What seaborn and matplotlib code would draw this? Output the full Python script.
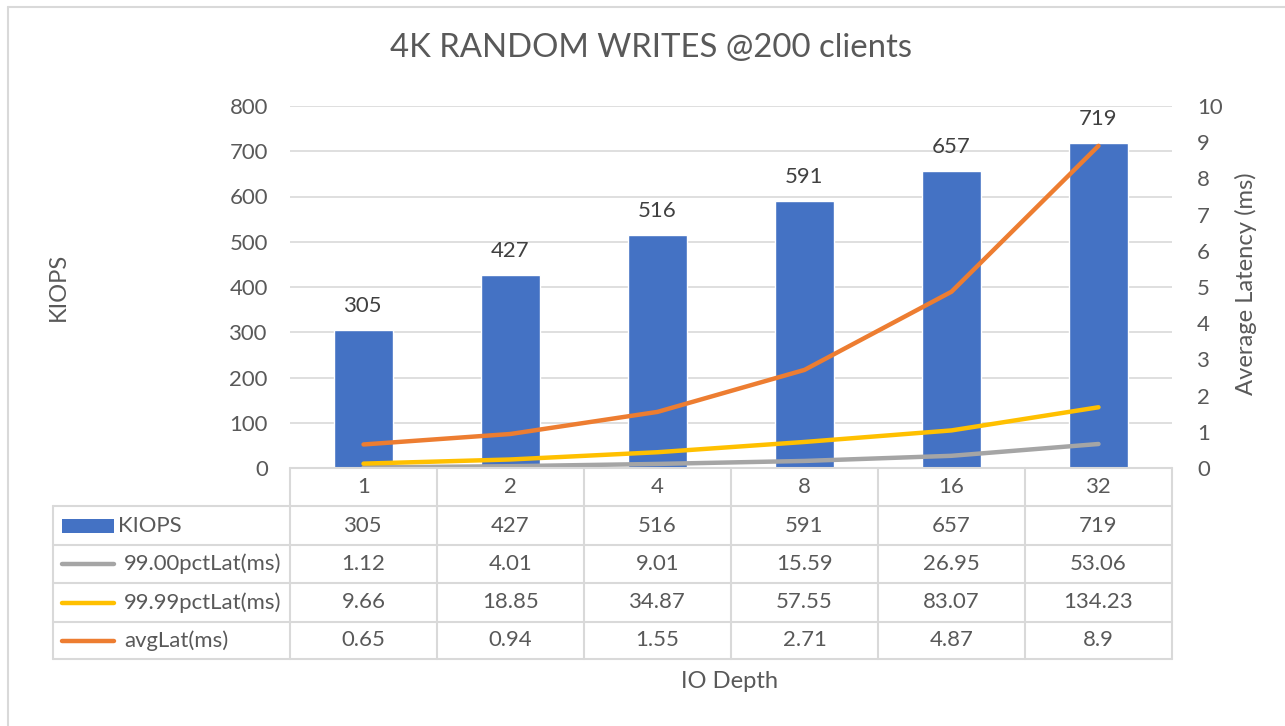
import numpy as np
import pandas as pd
import seaborn as sns
import matplotlib.pyplot as plt
from matplotlib.lines import Line2D
from matplotlib.patches import Rectangle

# chart data
io_depth = ['1', '2', '4', '8', '16', '32']
kiops = [305, 427, 516, 591, 657, 719]
pct99_lat = [1.12, 4.01, 9.01, 15.59, 26.95, 53.06]
pct9999_lat = [9.66, 18.85, 34.87, 57.55, 83.07, 134.23]
avg_lat = [0.65, 0.94, 1.55, 2.71, 4.87, 8.9]

series_names = ['KIOPS', '99.00pctLat(ms)', '99.99pctLat(ms)', 'avgLat(ms)']
series_colors = ['#4472C4', '#A5A5A5', '#FFC000', '#ED7D31']

TXT = '#595959'
GRID = '#D9D9D9'

sns.set_theme(style='white')
plt.rcParams['font.family'] = ['Lato', 'DejaVu Sans']

W, H = 1285, 726
fig = plt.figure(figsize=(W / 100, H / 100), dpi=100)
renderer = fig.canvas.get_renderer()


def fx(px):
    return px / W


def fy(py):
    return 1 - py / H


def fit_size(text, width_px, rotation=0):
    # font size that makes the string about as wide as in the reference
    t = fig.text(0, 0, text, fontsize=10)
    w = t.get_window_extent(renderer).width
    t.remove()
    return 10 * width_px / w


title_fs = fit_size('4K RANDOM WRITES @200 clients', 519)
label_fs = fit_size('Average Latency (ms)', 223)
small_fs = fit_size('99.00pctLat(ms)', 157)

# plot area in pixels
L, R, T, B = 290, 1172, 106, 468
ax = fig.add_axes([fx(L), fy(B), fx(R - L), (B - T) / H])

df = pd.DataFrame({'depth': io_depth, 'kiops': kiops})
sns.barplot(data=df, x='depth', y='kiops', ax=ax, color=series_colors[0],
            saturation=1, width=0.4, zorder=2)
pos = np.arange(len(io_depth))
sns.lineplot(x=pos, y=pct99_lat, ax=ax, color=series_colors[1], linewidth=3.2,
             solid_capstyle='round', zorder=3)
sns.lineplot(x=pos, y=pct9999_lat, ax=ax, color=series_colors[2], linewidth=3.2,
             solid_capstyle='round', zorder=3)

for i, v in enumerate(kiops):
    ax.annotate(str(v), (i, v), xytext=(0, 10), textcoords='offset points',
                ha='center', va='bottom', fontsize=small_fs, color='#404040')

ax.set_xlim(-0.5, len(io_depth) - 0.5)
ax.set_ylim(0, 800)
ax.set_yticks(range(0, 801, 100))
ax.yaxis.grid(True, color=GRID, linewidth=1.2, zorder=0)
ax.set_axisbelow(True)
ax.set_xticks([])
ax.set_xlabel('')
ax.set_ylabel('')
for s in ax.spines.values():
    s.set_visible(False)
ax.tick_params(axis='y', labelsize=small_fs, labelcolor=TXT, length=0, pad=16)

ax2 = ax.twinx()
sns.lineplot(x=pos, y=avg_lat, ax=ax2, color=series_colors[3], linewidth=3.2,
             solid_capstyle='round')
ax2.set_ylim(0, 10)
ax2.set_yticks(range(0, 11))
ax2.set_ylabel('')
for s in ax2.spines.values():
    s.set_visible(False)
ax2.tick_params(axis='y', labelsize=small_fs, labelcolor=TXT, length=0, pad=18)
ax2.grid(False)

# titles and axis labels
fig.text(fx(651), fy(48), '4K RANDOM WRITES @200 clients', ha='center', va='center',
         fontsize=title_fs, color=TXT)
fig.text(fx(58), fy(287), 'KIOPS', rotation=90, ha='center', va='center',
         fontsize=label_fs, color=TXT)
fig.text(fx(1246), fy(284), 'Average Latency (ms)', rotation=90, ha='center',
         va='center', fontsize=label_fs, color=TXT)
fig.text(fx(730), fy(682), 'IO Depth', ha='center', va='center', fontsize=label_fs,
         color=TXT)

# data table under the plot
row_y = [468, 506, 545, 583, 622, 659]
tab_left = 53
col_w = (R - L) / len(io_depth)


def hline(y, x0, x1):
    fig.add_artist(Line2D([fx(x0), fx(x1)], [fy(y), fy(y)], color=GRID, linewidth=1.5))


def vline(x, y0, y1):
    fig.add_artist(Line2D([fx(x), fx(x)], [fy(y0), fy(y1)], color=GRID, linewidth=1.5))


hline(row_y[0], L, R)
for y in row_y[1:]:
    hline(y, tab_left, R)
vline(tab_left, row_y[1], row_y[-1])
for j in range(len(io_depth) + 1):
    vline(L + j * col_w, row_y[0], row_y[-1])

for j, d in enumerate(io_depth):
    cx = L + (j + 0.5) * col_w
    fig.text(fx(cx), fy((row_y[0] + row_y[1]) / 2), d, ha='center', va='center',
             fontsize=small_fs, color=TXT)

rows = [kiops, pct99_lat, pct9999_lat, avg_lat]
for r, (name, color, vals) in enumerate(zip(series_names, series_colors, rows)):
    cy = (row_y[r + 1] + row_y[r + 2]) / 2
    if r == 0:
        fig.add_artist(Rectangle((fx(62), fy(cy + 7)), fx(52), 14 / H,
                                 color=color, linewidth=0))
        tx = 118
    else:
        fig.add_artist(Line2D([fx(62), fx(114)], [fy(cy), fy(cy)], color=color,
                              linewidth=3.2, solid_capstyle='round'))
        tx = 124
    fig.text(fx(tx), fy(cy), name, ha='left', va='center', fontsize=small_fs, color=TXT)
    for j, v in enumerate(vals):
        cx = L + (j + 0.5) * col_w
        fig.text(fx(cx), fy(cy), f'{v:g}', ha='center', va='center',
                 fontsize=small_fs, color=TXT)

# chart border (cut off at right and bottom)
fig.add_artist(Line2D([fx(8), fx(8)], [fy(7), 0], color=GRID, linewidth=1.5))
fig.add_artist(Line2D([fx(8), 1], [fy(7), fy(7)], color=GRID, linewidth=1.5))

fig.savefig('out.png', dpi=100, facecolor='white')
